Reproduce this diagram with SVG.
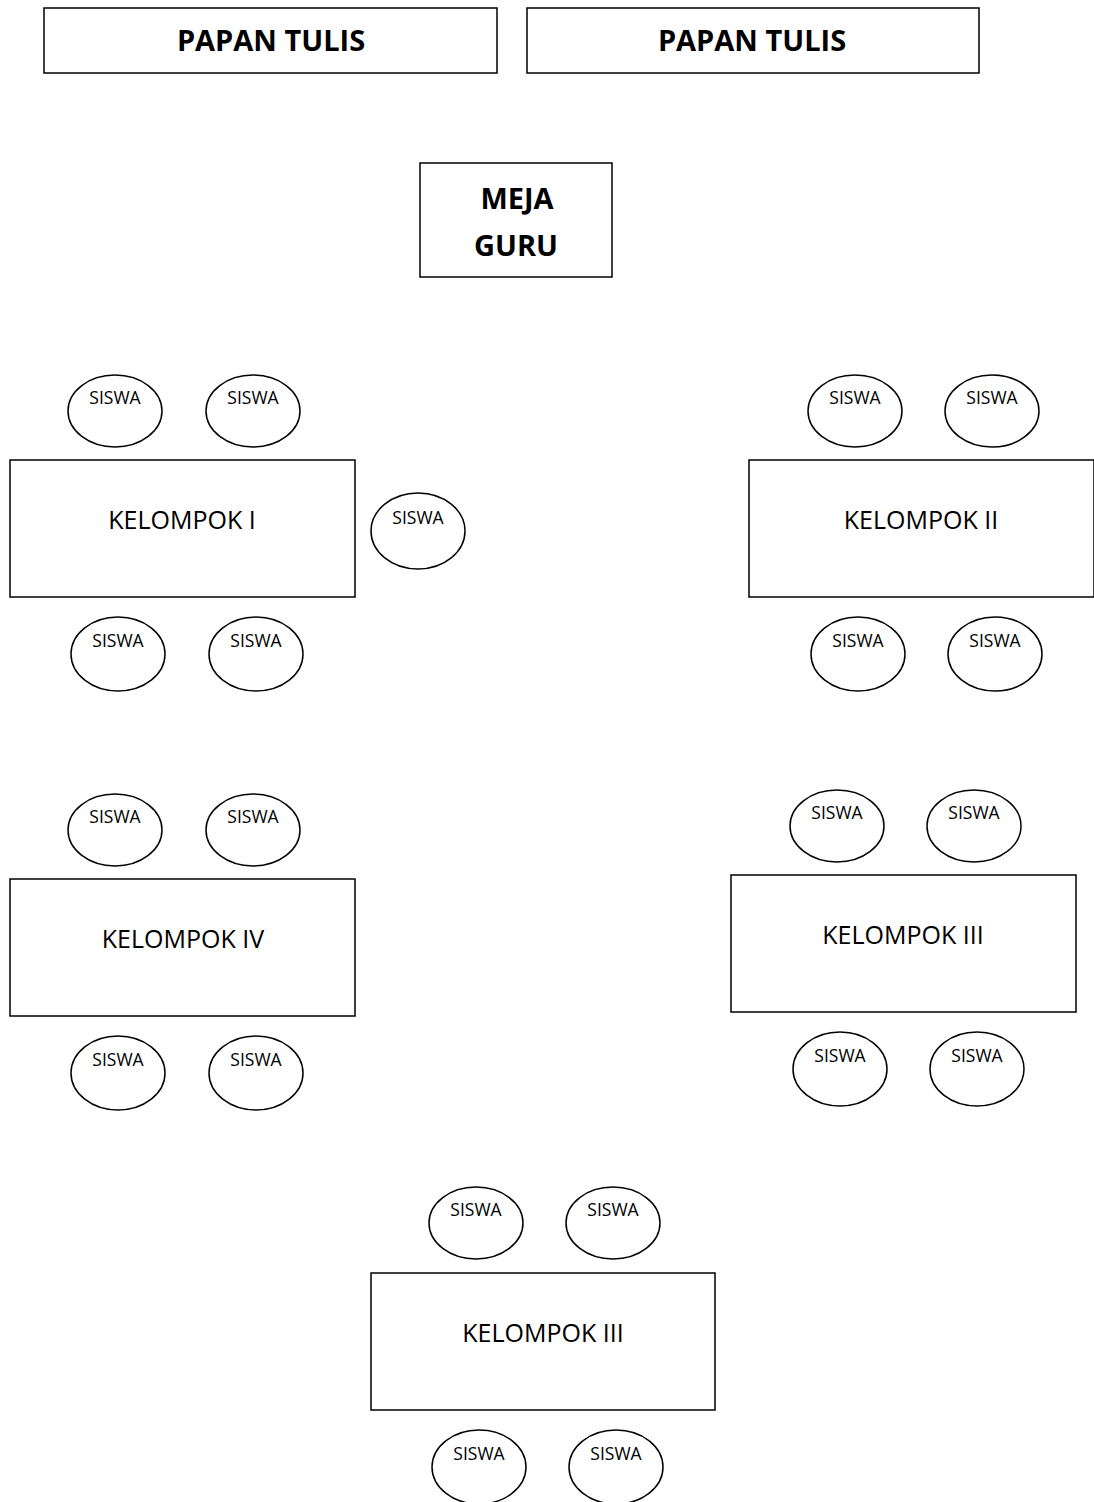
<svg xmlns="http://www.w3.org/2000/svg" width="1094" height="1502" viewBox="0 0 1094 1502">
<style>
.box{fill:#fff;stroke:#000;stroke-width:1.5}
.seat{fill:#fff;stroke:#000;stroke-width:1.5}
.b{font-family:"Open Sans","Liberation Sans",sans-serif;font-weight:bold;font-size:29px;text-anchor:middle;fill:#000}
.k{font-family:"Open Sans","Liberation Sans",sans-serif;font-size:25px;text-anchor:middle;fill:#000}
.s{font-family:"Open Sans","Liberation Sans",sans-serif;font-size:17.5px;text-anchor:middle;fill:#000}
</style>
<rect width="1094" height="1502" fill="#fff"/>
<g id="papan1"><rect class="box" x="44" y="8" width="453" height="65"/><text class="b" x="271" y="51">PAPAN TULIS</text></g>
<g id="papan2"><rect class="box" x="527" y="8" width="452" height="65"/><text class="b" x="752" y="51">PAPAN TULIS</text></g>
<g id="meja-guru"><rect class="box" x="420" y="163" width="192" height="114"/><text class="b" x="517" y="209">MEJA</text><text class="b" x="516" y="256">GURU</text></g>

<g id="kelompok1"><rect class="box" x="10" y="460" width="345" height="137"/><text class="k" x="182" y="529">KELOMPOK I</text></g>
<g id="k1-s1"><ellipse class="seat" cx="115" cy="411" rx="47" ry="36"/><text class="s" x="115" y="404">SISWA</text></g>
<g id="k1-s2"><ellipse class="seat" cx="253" cy="411" rx="47" ry="36"/><text class="s" x="253" y="404">SISWA</text></g>
<g id="k1-s3"><ellipse class="seat" cx="418" cy="531" rx="47" ry="38"/><text class="s" x="418" y="524">SISWA</text></g>
<g id="k1-s4"><ellipse class="seat" cx="118" cy="654" rx="47" ry="37"/><text class="s" x="118" y="647">SISWA</text></g>
<g id="k1-s5"><ellipse class="seat" cx="256" cy="654" rx="47" ry="37"/><text class="s" x="256" y="647">SISWA</text></g>

<g id="kelompok2"><rect class="box" x="749" y="460" width="345" height="137"/><text class="k" x="921" y="529">KELOMPOK II</text></g>
<g id="k2-s1"><ellipse class="seat" cx="855" cy="411" rx="47" ry="36"/><text class="s" x="855" y="404">SISWA</text></g>
<g id="k2-s2"><ellipse class="seat" cx="992" cy="411" rx="47" ry="36"/><text class="s" x="992" y="404">SISWA</text></g>
<g id="k2-s3"><ellipse class="seat" cx="858" cy="654" rx="47" ry="37"/><text class="s" x="858" y="647">SISWA</text></g>
<g id="k2-s4"><ellipse class="seat" cx="995" cy="654" rx="47" ry="37"/><text class="s" x="995" y="647">SISWA</text></g>

<g id="kelompok4"><rect class="box" x="10" y="879" width="345" height="137"/><text class="k" x="183" y="948">KELOMPOK IV</text></g>
<g id="k4-s1"><ellipse class="seat" cx="115" cy="830" rx="47" ry="36"/><text class="s" x="115" y="823">SISWA</text></g>
<g id="k4-s2"><ellipse class="seat" cx="253" cy="830" rx="47" ry="36"/><text class="s" x="253" y="823">SISWA</text></g>
<g id="k4-s3"><ellipse class="seat" cx="118" cy="1073" rx="47" ry="37"/><text class="s" x="118" y="1066">SISWA</text></g>
<g id="k4-s4"><ellipse class="seat" cx="256" cy="1073" rx="47" ry="37"/><text class="s" x="256" y="1066">SISWA</text></g>

<g id="kelompok3a"><rect class="box" x="731" y="875" width="345" height="137"/><text class="k" x="903" y="944">KELOMPOK III</text></g>
<g id="k3a-s1"><ellipse class="seat" cx="837" cy="826" rx="47" ry="36"/><text class="s" x="837" y="819">SISWA</text></g>
<g id="k3a-s2"><ellipse class="seat" cx="974" cy="826" rx="47" ry="36"/><text class="s" x="974" y="819">SISWA</text></g>
<g id="k3a-s3"><ellipse class="seat" cx="840" cy="1069" rx="47" ry="37"/><text class="s" x="840" y="1062">SISWA</text></g>
<g id="k3a-s4"><ellipse class="seat" cx="977" cy="1069" rx="47" ry="37"/><text class="s" x="977" y="1062">SISWA</text></g>

<g id="kelompok3b"><rect class="box" x="371" y="1273" width="344" height="137"/><text class="k" x="543" y="1342">KELOMPOK III</text></g>
<g id="k3b-s1"><ellipse class="seat" cx="476" cy="1223" rx="47" ry="36"/><text class="s" x="476" y="1216">SISWA</text></g>
<g id="k3b-s2"><ellipse class="seat" cx="613" cy="1223" rx="47" ry="36"/><text class="s" x="613" y="1216">SISWA</text></g>
<g id="k3b-s3"><ellipse class="seat" cx="479" cy="1467" rx="47" ry="37"/><text class="s" x="479" y="1460">SISWA</text></g>
<g id="k3b-s4"><ellipse class="seat" cx="616" cy="1467" rx="47" ry="37"/><text class="s" x="616" y="1460">SISWA</text></g>
<g id="connectors"/>
</svg>
